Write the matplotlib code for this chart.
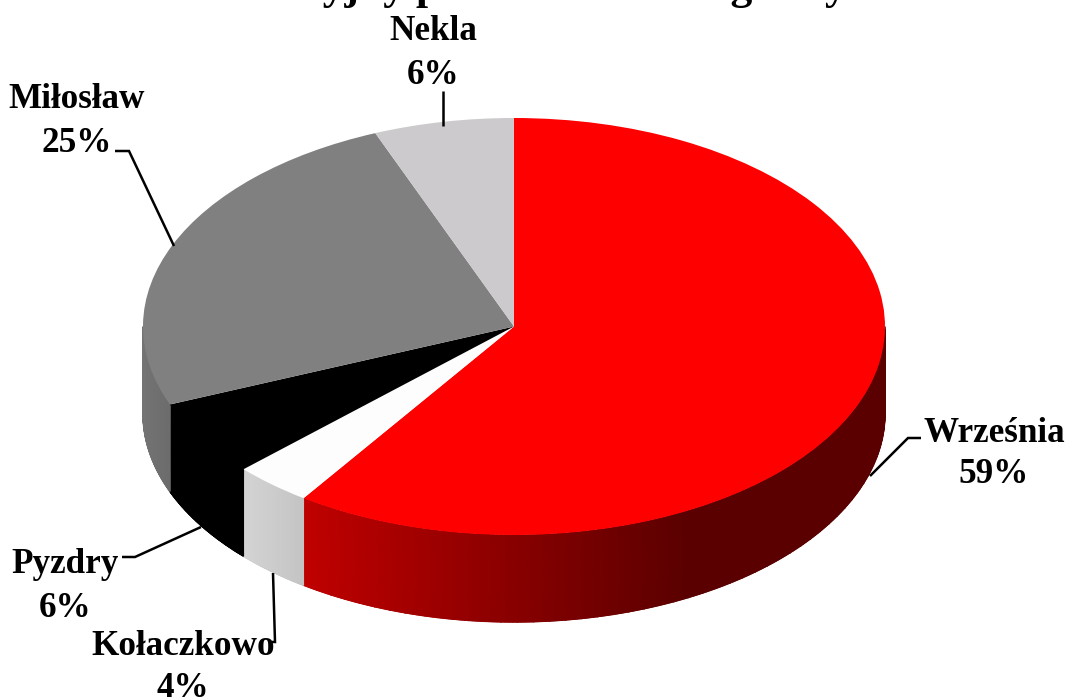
import numpy as np
import matplotlib
matplotlib.use('Agg')
import matplotlib.pyplot as plt

# ************************************************************************
# Data
# ************************************************************************
gminy = ['Września', 'Kołaczkowo', 'Pyzdry', 'Miłosław', 'Nekla']
# slice sizes as drawn in the picture, and the percentages its labels print
wycinki = [59.6, 3.4, 5.9, 25.0, 6.1]
etykiety = [59, 4, 6, 25, 6]
# the title is cut off by the top edge in the original, only the descenders
# can be seen, so the wording here is a guess that fits them
tytul = 'Emisyjny podział ziemi na gminy'

# ************************************************************************
# Styles and layout (pixels of the final picture)
# ************************************************************************
W, H = 1068, 698
CX, CY, RX, RY, DEPTH = 514, 326.5, 371, 208.5, 87

top_colors = ['#ff0000', '#fdfdfd', '#000000', '#808080', '#cccacc']
# side shading: pixel x -> colour value of each channel
side_stops = {
    'Września': ([305, 690], [(192, 0, 0), (90, 0, 0)]),
    'Kołaczkowo': ([243, 304], [(212, 212, 212), (196, 196, 196)]),
    'Pyzdry': ([170, 243], [(0, 0, 0), (0, 0, 0)]),
    'Miłosław': ([142, 170], [(116, 116, 116), (108, 108, 108)]),
}
label_pos = [(994, 442, 483), (183, 655, 697), (65, 573, 617), (77, 108, 152), (433, 40, 84)]
leaders = [
    [(870, 476), (908, 438), (921, 438)],
    [(273, 573), (275, 642), (272, 642)],
    [(201, 527), (135, 557), (122, 557)],
    [(174, 246), (129, 151), (115, 151)],
    [(442.5, 126), (442.5, 91)],
]

plt.rcParams['font.family'] = ['Liberation Serif', 'DejaVu Serif']
fig = plt.figure(figsize=(W / 100, H / 100), dpi=100)

# ************************************************************************
# Pie: unit circle squeezed by the axes limits
# ************************************************************************
ax = fig.add_axes([0, 0, 1, 1])
wedges, _ = ax.pie(wycinki, startangle=90, counterclock=False, colors=top_colors,
                   radius=1, wedgeprops={'linewidth': 0})
for w in wedges:
    w.set_zorder(5)
ax.set_aspect('auto')
ax.set_xlim(-CX / RX, (W - CX) / RX)
ax.set_ylim(-(H - CY) / RY, CY / RY)
depth = DEPTH / RY

# side wall of each slice that faces the viewer
ends = 90 - np.cumsum(wycinki) * 3.6
starts = np.r_[90, ends[:-1]]
for name, a0, a1 in zip(gminy, starts, ends):
    if name not in side_stops:
        continue
    a0 = a0 % 360 if a0 % 360 >= 180 else 360.0
    a1 = max(a1 % 360, 180.0)
    ang = np.radians(np.linspace(a1, a0, 200))
    x = np.cos(ang)
    y = np.sin(ang)
    X = np.vstack([x, x])
    Y = np.vstack([y, y - depth])
    xs, cols = side_stops[name]
    px = CX + x * RX
    cols = np.array(cols) / 255
    rgb = np.stack([np.interp(px, xs, cols[:, i]) for i in range(3)], axis=1)
    C = np.stack([rgb, rgb])
    ax.pcolormesh(X, Y, C, shading='gouraud', zorder=2)
    # smooth the outer edge of the wall
    for i in range(0, 199, 4):
        ax.plot(x[i:i + 5], y[i:i + 5] - depth, color=rgb[i], lw=1, zorder=1)

# ************************************************************************
# Labels and leader lines on a pixel overlay
# ************************************************************************
ov = fig.add_axes([0, 0, 1, 1], facecolor='none')
ov.set_xlim(0, W)
ov.set_ylim(H, 0)
ov.axis('off')

for name, val, (x, y1, y2), line in zip(gminy, etykiety, label_pos, leaders):
    ov.text(x, y1, name, ha='center', va='baseline', fontsize=25.3, fontweight='bold')
    ov.text(x, y2, f'{val}%', ha='center', va='baseline', fontsize=25.3, fontweight='bold')
    ov.plot([p[0] for p in line], [p[1] for p in line], color='black', lw=1.8,
            solid_joinstyle='miter', solid_capstyle='butt')

ov.text(537, -0.5, tytul, ha='center', va='baseline', fontsize=31.5, fontweight='bold',
        clip_on=False)

fig.savefig('out.png', dpi=100)
